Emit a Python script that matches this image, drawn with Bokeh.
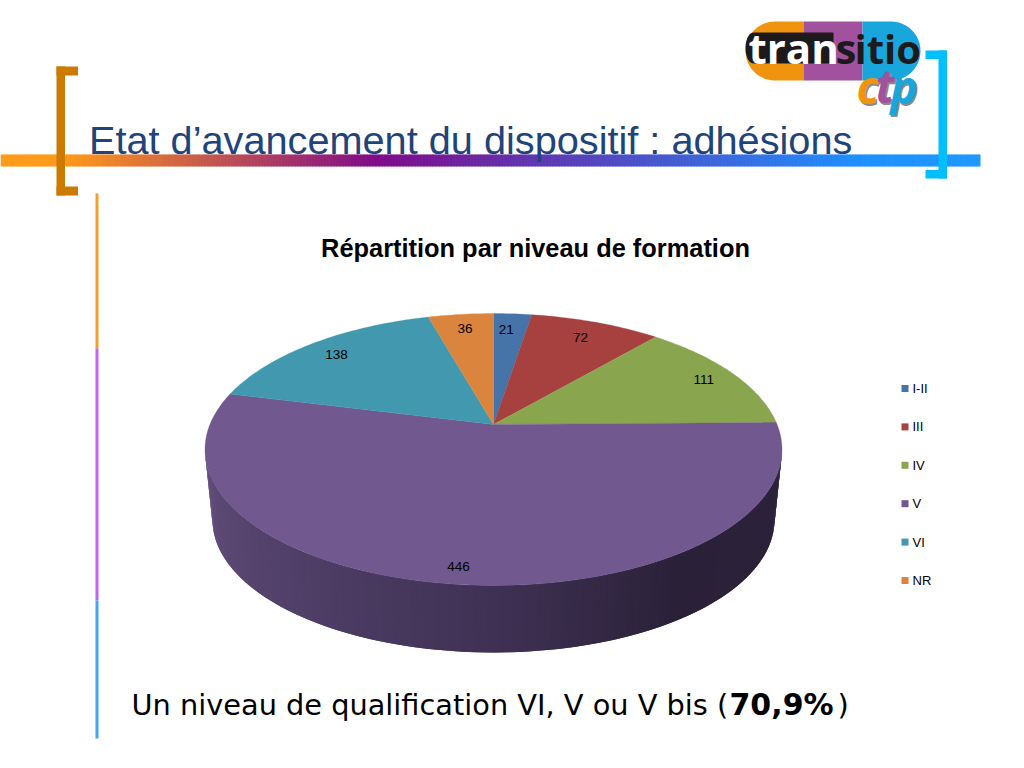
import math
from bokeh.plotting import figure
from bokeh.models import Range1d
from bokeh.core.properties import value
from bokeh.embed import file_html
from bokeh.resources import INLINE

# ---- data ----
categories = ["I-II", "III", "IV", "V", "VI", "NR"]
counts = [21, 72, 111, 446, 138, 36]
slice_colors = ["#4674a8", "#a6413f", "#89a54e", "#71588f", "#4198af", "#db843d"]
label_radius = [0.85, 0.85, 0.87, 0.905, 0.85, 0.85]
label_dx = [-4, -2, 1, 0, -1, 0]
label_dy = [1, 2, 0, 0, 0, 0]
chart_title = "Répartition par niveau de formation"
slide_title = "Etat d’avancement du dispositif : adhésions"
note_parts = ["Un niveau de qualification VI, V ou V bis (", "70,9%", ")"]

SANS = "Liberation Sans"
BASE_SHIFT = 0.37

p = figure(width=1024, height=768, x_range=Range1d(0, 1024), y_range=Range1d(768, 0),
           x_axis_type=None, y_axis_type=None, toolbar_location=None,
           output_backend="svg", min_border=0, outline_line_color=None,
           background_fill_color="white", border_fill_color="white")
p.grid.visible = False


def lerp_hex(stops, t):
    t = min(max(t, 0.0), 1.0)
    for (t0, c0), (t1, c1) in zip(stops, stops[1:]):
        if t <= t1:
            f = (t - t0) / (t1 - t0) if t1 > t0 else 0
            rgb = [round(int(c0[i:i + 2], 16) * (1 - f) + int(c1[i:i + 2], 16) * f) for i in (1, 3, 5)]
            return "#%02x%02x%02x" % tuple(rgb)
    return stops[-1][1]


def gradient_rect(x0, x1, y0, y1, stops, step=3):
    xs, cols = [], []
    x = x0
    while x < x1:
        xs.append(x)
        cols.append(lerp_hex(stops, (x + step / 2 - x0) / (x1 - x0)))
        x += step
    p.quad(left=xs, right=[min(v + step + 1, x1) for v in xs], top=y0, bottom=y1,
           fill_color=cols, line_color=None)


def txt(x, y, s, size, color="#000000", font=SANS, style="normal", align="left", baseline="alphabetic"):
    if baseline == "alphabetic":
        y = y - BASE_SHIFT * size
    p.text(x=[x], y=[y], text=[s], text_font=value(font), text_font_size=value(f"{size}px"),
           text_color=color, text_font_style=style, text_align=align, text_baseline=baseline)


def rect(x0, x1, y0, y1, color):
    p.quad(left=[x0], right=[x1], top=[y0], bottom=[y1], fill_color=color, line_color=None)


# ---- slide furniture ----
gradient_rect(0, 980, 154, 166, [(0, "#ff9a1a"), (0.065, "#ff9a1a"), (0.383, "#800b8a"),
                                 (0.88, "#1e90ff"), (1, "#1e98ff")])
# left bracket
rect(56, 64.5, 66, 195, "#cc7a00")
rect(56, 77.5, 66, 75, "#cc7a00")
rect(56, 77.5, 186, 195, "#cc7a00")
# right bracket
rect(938, 946.5, 50, 178, "#00bfff")
rect(925, 946.5, 50, 58.5, "#00bfff")
rect(925, 946.5, 169.5, 178, "#00bfff")
# vertical rule
rect(95, 98, 193, 348, "#f0a030")
rect(95, 98, 348, 600, "#c266ee")
rect(95, 98, 600, 738, "#4aa6e6")

txt(88.5, 154, slide_title, 39.7, color="#1f4479")

# ---- logo ----
PX0, PX1, PY0, PY1 = 745, 920, 21, 80
R = (PY1 - PY0) / 2
n = 24
lx = [PX0 + R - R * math.sin(math.pi * i / n) for i in range(n + 1)]
ly = [PY0 + R - R * math.cos(math.pi * i / n) for i in range(n + 1)]
p.patch(lx + [803, 803], ly + [PY1, PY0], fill_color="#f09410", line_color=None)
rect(803, 862, PY0, PY1, "#a2519f")
rx_ = [PX1 - R + R * math.sin(math.pi * i / n) for i in range(n + 1)]
p.patch(rx_ + [862, 862], ly + [PY1, PY0], fill_color="#18a6dc", line_color=None)
bx = [PX0 + 8 - 8 * math.sin(math.pi * i / n) for i in range(n + 1)]
by = [47.5 - 15.5 * math.cos(math.pi * i / n) for i in range(n + 1)]
p.patch(bx + [833, 833], by + [63, 32], fill_color="#1c1a1c", line_color=None)
txt(748, 63, "tran", 42, color="#ffffff", font="Open Sans", style="bold")
txt(835, 63, "s", 42, color="#1c1a1c", font="Open Sans", style="bold")
txt(854, 63, "itio", 40, color="#1c1a1c", font="Open Sans", style="bold")
for dx, col_c, col_t, col_p in [(1.5, "#8a8a8a", "#8a8a8a", "#8a8a8a"), (0, "#f09410", "#a2519f", "#18a6dc")]:
    txt(856 + dx, 103 + dx, "c", 46, color=col_c, font="Open Sans", style="bold italic")
    txt(875 + dx, 102 + dx, "t", 46, color=col_t, font="Open Sans", style="bold italic")
    txt(890 + dx, 103 + dx, "p", 46, color=col_p, font="Open Sans", style="bold italic")

# ---- 3D pie ----
APEX_X, APEX_Y = 493, 424
A, B, K = 283.6, 131.4, 0.1838    # projection of the unit disc
TOP_RX, TOP_RY, TOP_CY = 288.5, 136, 449
BOT_RX, BOT_RY, BOT_CY = 281, 132.5, 519.5


def project(u, v):
    d = 1 - K * v
    return APEX_X + A * u / d, APEX_Y + B * v / d


side_stops = [(0, "#66517f"), (0.08, "#5c4975"), (0.5, "#3f3154"), (0.72, "#2a2139"), (1, "#2c233a")]
N_SIDE = 140
xs_side, ys_side, cols_side = [], [], []
for i in range(N_SIDE):
    t0 = math.pi * (1 - i / N_SIDE)
    t1 = math.pi * (1 - min(i + 2, N_SIDE) / N_SIDE)
    xs_side.append([493 + TOP_RX * math.cos(t0), 493 + TOP_RX * math.cos(t1),
                    493 + BOT_RX * math.cos(t1), 493 + BOT_RX * math.cos(t0)])
    ys_side.append([TOP_CY + TOP_RY * math.sin(t0), TOP_CY + TOP_RY * math.sin(t1),
                    BOT_CY + BOT_RY * math.sin(t1), BOT_CY + BOT_RY * math.sin(t0)])
    cols_side.append(lerp_hex(side_stops, i / (N_SIDE - 1)))
p.patches(xs_side, ys_side, fill_color=cols_side, line_color=None)

total = sum(counts)
cum = 0
lab = []
xs_top, ys_top = [], []
for c, r_lab, ldx, ldy in zip(counts, label_radius, label_dx, label_dy):
    a0 = 2 * math.pi * cum / total
    a1 = 2 * math.pi * (cum + c) / total
    steps = max(4, int((a1 - a0) * 60))
    pts = [project(math.sin(a0 + (a1 - a0) * j / steps), -math.cos(a0 + (a1 - a0) * j / steps))
           for j in range(steps + 1)]
    xs_top.append([APEX_X] + [q[0] for q in pts])
    ys_top.append([APEX_Y] + [q[1] for q in pts])
    mid = (a0 + a1) / 2
    q = project(r_lab * math.sin(mid), -r_lab * math.cos(mid))
    lab.append((q[0] + ldx, q[1] + ldy))
    cum += c
p.patches(xs_top, ys_top, fill_color=slice_colors, line_color=slice_colors, line_width=0.3)

p.text(x=[q[0] for q in lab], y=[q[1] for q in lab], text=[str(c) for c in counts],
       text_font=value(SANS), text_font_size=value("13.5px"), text_color="#000000",
       text_align="center", text_baseline="middle")

# ---- chart title and legend ----
txt(535, 257, chart_title, 25.4, style="bold", align="center")
LEG_Y0, LEG_DY = 388, 38.4
for i, (cat, col) in enumerate(zip(categories, slice_colors)):
    yc = LEG_Y0 + i * LEG_DY
    rect(901, 908, yc - 3.5, yc + 3.5, col)
    txt(912, yc, cat, 13, baseline="middle")

# ---- note ----
txt(131, 715, note_parts[0], 28.8, font="DejaVu Sans")
txt(729, 715, note_parts[1], 30, font="DejaVu Sans", style="bold")
txt(837, 715, note_parts[2], 28.8, font="DejaVu Sans")

open("out.html", "w").write(file_html(p, INLINE))
